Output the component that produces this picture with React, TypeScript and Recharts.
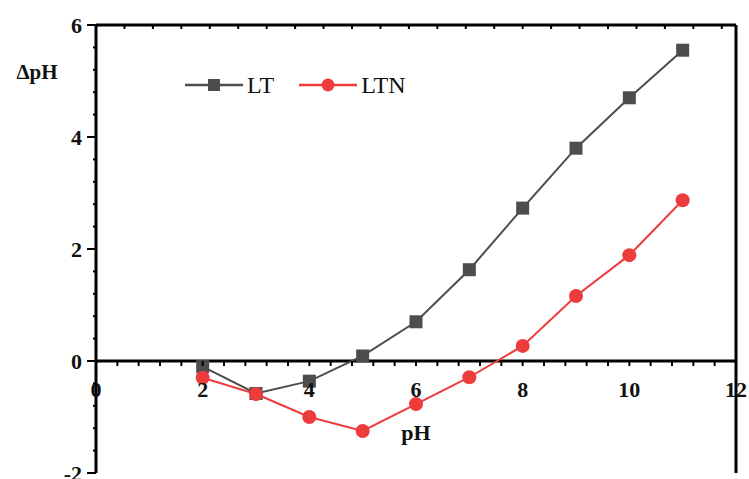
import { LineChart, Line, XAxis, YAxis, ReferenceLine, Legend } from 'recharts'

const phValues = [2, 3, 4, 5, 6, 7, 8, 9, 10, 11]
const ltValues = [-0.1, -0.58, -0.36, 0.09, 0.7, 1.63, 2.73, 3.8, 4.7, 5.55]
const ltnValues = [-0.3, -0.59, -1.0, -1.25, -0.77, -0.29, 0.27, 1.16, 1.89, 2.87]
const xDomain: [number, number] = [0, 12]
const yDomain: [number, number] = [-2, 6]
// major ticks every 2, minor every 0.4
const xTicks = Array.from({ length: 31 }, (_, i) => +(i * 0.4).toFixed(1))
const yTicks = Array.from({ length: 21 }, (_, i) => +(-2 + i * 0.4).toFixed(1))

const data = phValues.map((ph, i) => ({ ph, lt: ltValues[i], ltn: ltnValues[i] }))

const LEFT = 96
const TOP = 25
const RIGHT = 736
const BOTTOM = 473
const ZERO_Y = TOP + ((BOTTOM - TOP) * (yDomain[1] - 0)) / (yDomain[1] - yDomain[0])
const FONT = '"Liberation Serif", "Times New Roman", serif'
const GRAY = '#4d4d4d'
const RED = '#ee3b3b'

const isMajor = (v: number) => Math.abs(v / 2 - Math.round(v / 2)) < 1e-6

function BottomTick({ x, payload }: any) {
  const v = payload.value
  return (
    <g>
      <line x1={x} x2={x} y1={ZERO_Y} y2={ZERO_Y + 5} stroke="#000" strokeWidth={2} />
      {isMajor(v) && (
        <text x={x} y={ZERO_Y + 28} textAnchor="middle" dominantBaseline="central"
          fontFamily={FONT} fontWeight="bold" fontSize={22} fill="#111">{v}</text>
      )}
    </g>
  )
}

function TopTick({ x }: any) {
  return <line x1={x} x2={x} y1={TOP} y2={TOP + 4} stroke="#000" strokeWidth={2} />
}

function LeftTick({ y, payload }: any) {
  const v = payload.value
  const major = isMajor(v)
  return (
    <g>
      <line x1={LEFT - (major ? 9 : 3)} x2={LEFT} y1={y} y2={y} stroke="#000" strokeWidth={2} />
      {major && (
        <text x={LEFT - 14} y={y} textAnchor="end" dominantBaseline="central"
          fontFamily={FONT} fontWeight="bold" fontSize={22} fill="#111">{v}</text>
      )}
    </g>
  )
}

function RightTick({ y }: any) {
  return <line x1={RIGHT - 4} x2={RIGHT} y1={y} y2={y} stroke="#000" strokeWidth={2} />
}

function SquareDot({ cx, cy, index }: any) {
  return <rect key={`sq-${index}`} x={cx - 6.5} y={cy - 6.5} width={13} height={13} fill={GRAY} />
}

function renderLegend({ payload }: any) {
  return (
    <div style={{ display: 'flex', alignItems: 'center', fontFamily: FONT, fontSize: 24, lineHeight: 1, color: '#111' }}>
      {(payload || []).map((item: any, i: number) => (
        <div key={item.value} style={{ display: 'flex', alignItems: 'center', marginRight: i === 0 ? 25 : 0 }}>
          <svg width={58} height={16}>
            <line x1={0} x2={58} y1={8} y2={8} stroke={item.color} strokeWidth={2.5} />
            {item.dataKey === 'lt'
              ? <rect x={23} y={2} width={12} height={12} fill={item.color} />
              : <circle cx={29} cy={8} r={6.5} fill={item.color} />}
          </svg>
          <span style={{ marginLeft: 4 }}>{item.value}</span>
        </div>
      ))}
    </div>
  )
}

export default function App() {
  return (
    <div style={{ position: 'absolute', left: 0, top: 0 }}>
      <LineChart width={749} height={479} data={data}
        margin={{ top: TOP - 1, right: 749 - RIGHT - 1, bottom: 479 - BOTTOM - 1, left: LEFT - 60 }}>
        <XAxis dataKey="ph" type="number" domain={xDomain} ticks={xTicks} interval={0}
          height={1} axisLine={false} tickLine={false} tick={<BottomTick />}
          label={() => (
            <text x={416} y={432} textAnchor="middle" dominantBaseline="central"
              fontFamily={FONT} fontWeight="bold" fontSize={22} fill="#111">pH</text>
          )} />
        <XAxis xAxisId="top" orientation="top" type="number" domain={xDomain} ticks={xTicks} interval={0}
          height={1} axisLine={{ stroke: '#000', strokeWidth: 3 }} tickLine={false} tick={<TopTick />} />
        <YAxis type="number" domain={yDomain} ticks={yTicks} interval={0} width={60}
          axisLine={{ stroke: '#000', strokeWidth: 3 }} tickLine={false} tick={<LeftTick />}
          label={() => (
            <text x={37} y={72} textAnchor="middle" dominantBaseline="central"
              fontFamily={FONT} fontWeight="bold" fontSize={21} fill="#111">ΔpH</text>
          )} />
        <YAxis yAxisId="right" orientation="right" type="number" domain={yDomain} ticks={yTicks} interval={0}
          width={1} axisLine={{ stroke: '#000', strokeWidth: 3 }} tickLine={false} tick={<RightTick />} />
        <ReferenceLine y={0} stroke="#000" strokeWidth={3} />
        <Legend layout="horizontal" verticalAlign="middle" align="center" content={renderLegend}
          wrapperStyle={{ left: 185, top: 73, width: 'auto' }} />
        <Line dataKey="lt" name="LT" stroke={GRAY} strokeWidth={2} dot={<SquareDot />}
          isAnimationActive={false} />
        <Line dataKey="ltn" name="LTN" stroke={RED} strokeWidth={2}
          dot={{ r: 7, fill: RED, stroke: RED, strokeWidth: 0 }} isAnimationActive={false} />
      </LineChart>
    </div>
  )
}
